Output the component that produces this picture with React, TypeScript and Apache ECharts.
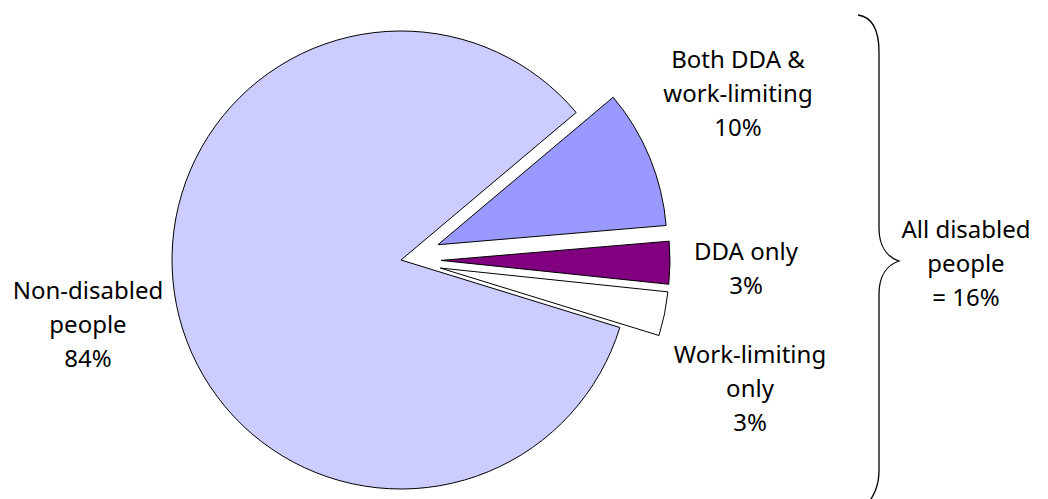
import React, { useEffect, useRef } from "react";
import * as echarts from "echarts";

const categories = ["Both DDA &\nwork-limiting", "DDA only", "Work-limiting\nonly", "Non-disabled\npeople"];
const values = [9.8, 3.0, 3.1, 84.1];
const colors = ["#9999FF", "#800080", "#FFFFFF", "#CCCCFF"];
const exploded = [true, true, true, false];
const labelPositions = [
  [738, 92],
  [746, 267],
  [750, 387],
  [88, 323],
];
const bracePath =
  "M858,15 C872,17 879,30 879,52 L879,228 C879,246 887,257 899,261 C887,265 879,276 879,294 L879,470 C879,486 874,496 866,506";

const FONT = "'Noto Sans', sans-serif";

export default function App() {
  const ref = useRef<HTMLDivElement>(null);
  useEffect(() => {
    if (!ref.current) return;
    echarts.graphic.registerShape("brace", echarts.graphic.extendPath(bracePath, {}));
    const chart = echarts.init(ref.current, null, { renderer: "svg" });
    const disabledTotal = Math.round(values.slice(0, 3).reduce((a, b) => a + b, 0));
    const textStyle = {
      fill: "#000000",
      fontSize: 24,
      fontFamily: FONT,
      lineHeight: 34,
      align: "center",
      verticalAlign: "middle",
    };
    const sliceLabels = categories.map((name, i) => ({
      type: "text",
      x: labelPositions[i][0],
      y: labelPositions[i][1],
      silent: true,
      style: { ...textStyle, text: name + "\n" + Math.round(values[i]) + "%" },
    }));
    chart.setOption({
      animation: false,
      backgroundColor: "#ffffff",
      graphic: [
        {
          type: "brace",
          x: 0,
          y: 0,
          style: { fill: "none", stroke: "#000000", lineWidth: 1.3 },
          silent: true,
        },
        {
          type: "text",
          x: 966,
          y: 262,
          silent: true,
          style: { ...textStyle, text: "All disabled\npeople\n= " + disabledTotal + "%" },
        },
        ...sliceLabels,
      ],
      series: [
        {
          type: "pie",
          center: [401, 260],
          radius: 229,
          startAngle: 40.1,
          clockwise: true,
          selectedMode: "multiple",
          selectedOffset: 40,
          avoidLabelOverlap: false,
          emphasis: { disabled: true },
          itemStyle: { borderColor: "#000000", borderWidth: 1 },
          label: { show: false },
          labelLine: { show: false },
          data: categories.map((name, i) => ({
            name,
            value: values[i],
            selected: exploded[i],
            itemStyle: { color: colors[i] },
            select: { itemStyle: { color: colors[i], borderColor: "#000000", borderWidth: 1 } },
          })),
        },
      ],
    });
    return () => chart.dispose();
  }, []);
  return (
    <div
      ref={ref}
      style={{ position: "fixed", left: 0, top: 0, width: 1048, height: 499 }}
    />
  );
}
